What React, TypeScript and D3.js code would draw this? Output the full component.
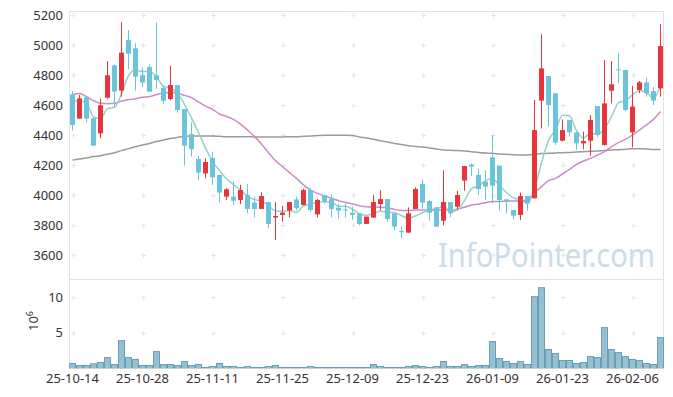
import React from 'react';
import * as d3 from 'd3';

// trading days shown (YY-MM-DD)
const dates = [
  '25-10-14', '25-10-15', '25-10-16', '25-10-17', '25-10-20', '25-10-21', '25-10-22', '25-10-23', '25-10-24', '25-10-27',
  '25-10-28', '25-10-29', '25-10-30', '25-10-31', '25-11-03', '25-11-04', '25-11-05', '25-11-06', '25-11-07', '25-11-10',
  '25-11-11', '25-11-12', '25-11-13', '25-11-14', '25-11-17', '25-11-18', '25-11-19', '25-11-20', '25-11-21', '25-11-24',
  '25-11-25', '25-11-26', '25-11-27', '25-11-28', '25-12-01', '25-12-02', '25-12-03', '25-12-04', '25-12-05', '25-12-08',
  '25-12-09', '25-12-10', '25-12-11', '25-12-12', '25-12-15', '25-12-16', '25-12-17', '25-12-18', '25-12-19', '25-12-22',
  '25-12-23', '25-12-24', '25-12-26', '25-12-29', '25-12-30', '26-01-02', '26-01-05', '26-01-06', '26-01-07', '26-01-08',
  '26-01-09', '26-01-12', '26-01-13', '26-01-14', '26-01-15', '26-01-16', '26-01-19', '26-01-20', '26-01-21', '26-01-22',
  '26-01-23', '26-01-26', '26-01-27', '26-01-28', '26-01-29', '26-01-30', '26-02-02', '26-02-03', '26-02-04', '26-02-05',
  '26-02-06', '26-02-09', '26-02-10', '26-02-11', '26-02-12',
];

const opens = [
  4671, 4509, 4651, 4511, 4411, 4649, 4864, 4696, 5033, 4978, 4798, 4853, 4798, 4713, 4640, 4733, 4573, 4407, 4240, 4144,
  4247, 4133, 3989, 3989, 3967, 4000, 3949, 3907, 3953, 3849, 3867, 3896, 3971, 3933, 4033, 3871, 4000, 3973, 3916, 3904,
  3882, 3876, 3807, 3849, 3940, 3973, 3878, 3760, 3749, 3907, 4073, 3960, 3918, 3829, 3953, 3922, 4096, 4204, 4133, 4089,
  4251, 4196, 3971, 3900, 3867, 3993, 3978, 4629, 4793, 4678, 4362, 4500, 4418, 4344, 4362, 4593, 4333, 4696, 4838, 4833,
  4418, 4700, 4751, 4693, 4711,
];
const highs = [
  4693, 4667, 4656, 4513, 4642, 4893, 4871, 5153, 5100, 5011, 4851, 4871, 5151, 4729, 4860, 4733, 4573, 4484, 4260, 4244,
  4289, 4133, 4047, 4089, 4067, 4073, 3989, 4018, 3953, 3953, 3929, 3953, 3989, 4042, 4044, 3973, 4000, 4004, 3944, 3944,
  3922, 3876, 3856, 4000, 4031, 3973, 3878, 3789, 3918, 4051, 4104, 3967, 3918, 4164, 3953, 4027, 4193, 4211, 4178, 4167,
  4400, 4196, 3971, 3900, 4016, 3993, 4633, 5071, 4793, 4678, 4504, 4500, 4418, 4422, 4533, 4593, 4900, 4893, 4944, 4833,
  4727, 4760, 4782, 4718, 5140,
];
const lows = [
  4429, 4509, 4484, 4325, 4378, 4642, 4589, 4656, 4838, 4696, 4718, 4689, 4704, 4607, 4633, 4549, 4196, 4256, 4100, 4111,
  4067, 3951, 3967, 3933, 3940, 3878, 3851, 3907, 3776, 3700, 3822, 3851, 3896, 3933, 3887, 3851, 3944, 3851, 3842, 3851,
  3833, 3798, 3807, 3849, 3896, 3822, 3767, 3711, 3749, 3907, 3909, 3829, 3789, 3798, 3851, 3904, 4029, 4127, 4000, 3967,
  3944, 3896, 3878, 3838, 3833, 3896, 3978, 4444, 4456, 4333, 4356, 4389, 4300, 4304, 4262, 4389, 4329, 4611, 4744, 4560,
  4318, 4678, 4656, 4600, 4656,
];
const closes = [
  4467, 4644, 4509, 4329, 4598, 4798, 4689, 4949, 4942, 4789, 4749, 4689, 4767, 4629, 4733, 4567, 4329, 4305, 4149, 4220,
  4118, 4016, 4038, 3962, 4033, 3907, 3907, 3993, 3807, 3860, 3882, 3953, 3913, 4033, 3900, 3967, 3958, 3907, 3896, 3898,
  3867, 3807, 3856, 3953, 3973, 3840, 3789, 3752, 3878, 4040, 3949, 3882, 3789, 3953, 3878, 4000, 4193, 4189, 4040, 4056,
  4062, 3967, 3956, 3862, 3993, 3944, 4433, 4844, 4600, 4349, 4433, 4418, 4344, 4360, 4500, 4400, 4611, 4738, 4833, 4567,
  4589, 4751, 4678, 4629, 4993,
];
// volume in millions of shares
const volumes = [
  0.70, 0.42, 0.42, 0.65, 0.84, 1.53, 0.56, 3.9, 1.53, 1.26, 0.42, 0.42, 2.37, 0.56, 0.56, 0.42, 0.98, 0.42, 0.56, 0.14,
  0.28, 0.70, 0.28, 0.28, 0.14, 0.28, 0.14, 0.14, 0.28, 0.42, 0.14, 0.14, 0.14, 0.14, 0.28, 0.14, 0.14, 0.14, 0.14, 0.14,
  0.14, 0.14, 0.14, 0.56, 0.28, 0.14, 0.14, 0.14, 0.28, 0.42, 0.28, 0.14, 0.28, 0.98, 0.28, 0.28, 0.56, 0.28, 0.42, 0.42,
  3.77, 1.40, 0.98, 0.70, 0.98, 0.56, 10.05, 11.3, 2.65, 2.09, 1.12, 1.12, 0.70, 0.84, 1.67, 1.53, 5.72, 2.65, 2.23, 1.67,
  1.26, 1.12, 0.70, 0.56, 4.33,
];
// first four MA5 points (need closes before the window)
const ma5Head = [4625, 4628, 4612, 4520];
const ma20 = [
  4667, 4676, 4656, 4629, 4611, 4609, 4611, 4627, 4636, 4642, 4651, 4656, 4669, 4680, 4684, 4678, 4664, 4649, 4620, 4593,
  4571, 4540, 4524, 4504, 4473, 4433, 4389, 4340, 4282, 4229, 4189, 4149, 4111, 4067, 4033, 4011, 3993, 3978, 3962, 3951,
  3940, 3929, 3922, 3920, 3918, 3913, 3904, 3896, 3896, 3900, 3900, 3900, 3896, 3904, 3896, 3907, 3918, 3933, 3940, 3949,
  3956, 3956, 3960, 3960, 3960, 3971, 4016, 4056, 4096, 4111, 4140, 4171, 4204, 4227, 4244, 4267, 4289, 4322, 4349, 4371,
  4400, 4433, 4467, 4504, 4556,
];
const ma60 = [
  4233, 4240, 4247, 4256, 4262, 4271, 4282, 4296, 4309, 4322, 4333, 4344, 4356, 4367, 4376, 4384, 4391, 4393, 4393, 4393,
  4393, 4391, 4389, 4389, 4389, 4389, 4387, 4387, 4387, 4387, 4387, 4389, 4389, 4391, 4393, 4396, 4398, 4398, 4398, 4398,
  4396, 4387, 4380, 4371, 4362, 4353, 4344, 4336, 4329, 4324, 4320, 4313, 4307, 4300, 4298, 4296, 4293, 4289, 4284, 4280,
  4278, 4273, 4271, 4269, 4267, 4267, 4271, 4276, 4278, 4280, 4282, 4284, 4287, 4289, 4291, 4293, 4296, 4300, 4302, 4304,
  4309, 4309, 4307, 4304, 4304,
];

const priceTicks = [3600, 3800, 4000, 4200, 4400, 4600, 4800, 5000, 5200];
const volTicks = [5, 10];

const UP = '#e8353c';
const DOWN = '#6cc4da';

export default function App() {
  const width = 673, height = 397;
  const left = 69, right = 664;
  const top = 11.5, sep = 279.5, bottom = 368.5;

  const x = d3.scaleBand<string>().domain(dates).range([left, right]).padding(0);
  const cx = (i: number) => (x(dates[i]) as number) + x.bandwidth() / 2;
  const y = d3.scaleLinear().domain([3600, 5200]).range([255, 15]);
  const yv = d3.scaleLinear().domain([0, 10]).range([368.5, 297]);

  const ma5 = closes.map((c, i) => (i < 4 ? ma5Head[i] : (d3.mean(closes.slice(i - 4, i + 1)) as number)));

  const line = d3.line<number>()
    .x((d, i) => cx(i))
    .y(d => y(d))
    .curve(d3.curveMonotoneX);

  const xTicks = dates.map((d, i) => i).filter(i => i % 10 === 0);
  const font = '"Noto Sans", "DejaVu Sans", sans-serif';

  const cross = (px: number, py: number, k: string) => (
    <g key={k} stroke="#e6e6e6" strokeWidth={1}>
      <line x1={px - 2.5} x2={px + 2.5} y1={py} y2={py} />
      <line x1={px} x2={px} y1={py - 2.5} y2={py + 2.5} />
    </g>
  );

  return (
    <svg width={width} height={height} style={{ position: 'absolute', left: 0, top: 0, background: '#fff' }}
      fontFamily={font}>
      {/* watermark */}
      <text x={438} y={267} fontSize={32} fill="#cbdce7" textLength={217} lengthAdjust="spacingAndGlyphs">
        InfoPointer.com
      </text>

      {/* grid crosses */}
      {xTicks.map(i => priceTicks.map(p => cross(Math.round(cx(i)) + 0.5, Math.round(y(p)) + 0.5, `p${i}-${p}`)))}
      {xTicks.map(i => volTicks.map(v => cross(Math.round(cx(i)) + 0.5, Math.round(yv(v)) + 0.5, `v${i}-${v}`)))}

      {/* frames */}
      <g stroke="#e2e2e2" strokeWidth={1} fill="none">
        <line x1={left} x2={right} y1={top} y2={top} />
        <line x1={left} x2={right} y1={sep} y2={sep} />
        <line x1={left + 0.5} x2={left + 0.5} y1={top} y2={bottom} />
        <line x1={right - 0.5} x2={right - 0.5} y1={top} y2={bottom} />
      </g>

      {/* moving averages */}
      <path d={line(ma60) || ''} fill="none" stroke="#9b9b9b" strokeWidth={1.5} />
      <path d={line(ma20) || ''} fill="none" stroke="#c98ec6" strokeWidth={1.5} />
      <path d={line(ma5) || ''} fill="none" stroke="#93d2c6" strokeWidth={1.5} />

      {/* candles */}
      {dates.map((d, i) => {
        const up = closes[i] >= opens[i];
        const col = up ? UP : DOWN;
        const bt = y(Math.max(opens[i], closes[i]));
        const bb = y(Math.min(opens[i], closes[i]));
        const c = cx(i);
        return (
          <g key={d}>
            <line x1={c} x2={c} y1={y(highs[i])} y2={y(lows[i])} stroke={col} strokeWidth={1} />
            <rect x={c - 2.5} y={bt} width={5} height={Math.max(1, bb - bt)} fill={col} />
          </g>
        );
      })}

      {/* volume bars */}
      {volumes.map((v, i) => (
        <rect key={'vol' + i} x={(x(dates[i]) as number) + 0.5} y={yv(v)} width={x.bandwidth() - 1}
          height={yv(0) - yv(v)} fill="#95c0d2" stroke="#6b9fb7" strokeWidth={1} />
      ))}
      <line x1={left} x2={right} y1={bottom} y2={bottom} stroke="#cfcfcf" />

      {/* price axis labels */}
      {priceTicks.map(p => (
        <text key={'pt' + p} x={63} y={y(p)} dy="0.35em" textAnchor="end" fontSize={13} fill="#333">{p}</text>
      ))}
      {volTicks.map(v => (
        <text key={'vt' + v} x={63} y={yv(v)} dy="0.35em" textAnchor="end" fontSize={13} fill="#333">{v}</text>
      ))}
      <text transform="translate(38,321) rotate(-90)" textAnchor="middle" fontSize={13} fill="#333">
        10<tspan dy={-5} fontSize={9}>6</tspan>
      </text>

      {/* date labels */}
      {xTicks.map(i => (
        <text key={'xt' + i} x={cx(i)} y={383} textAnchor="middle" fontSize={13} fill="#333">{dates[i]}</text>
      ))}
    </svg>
  );
}
